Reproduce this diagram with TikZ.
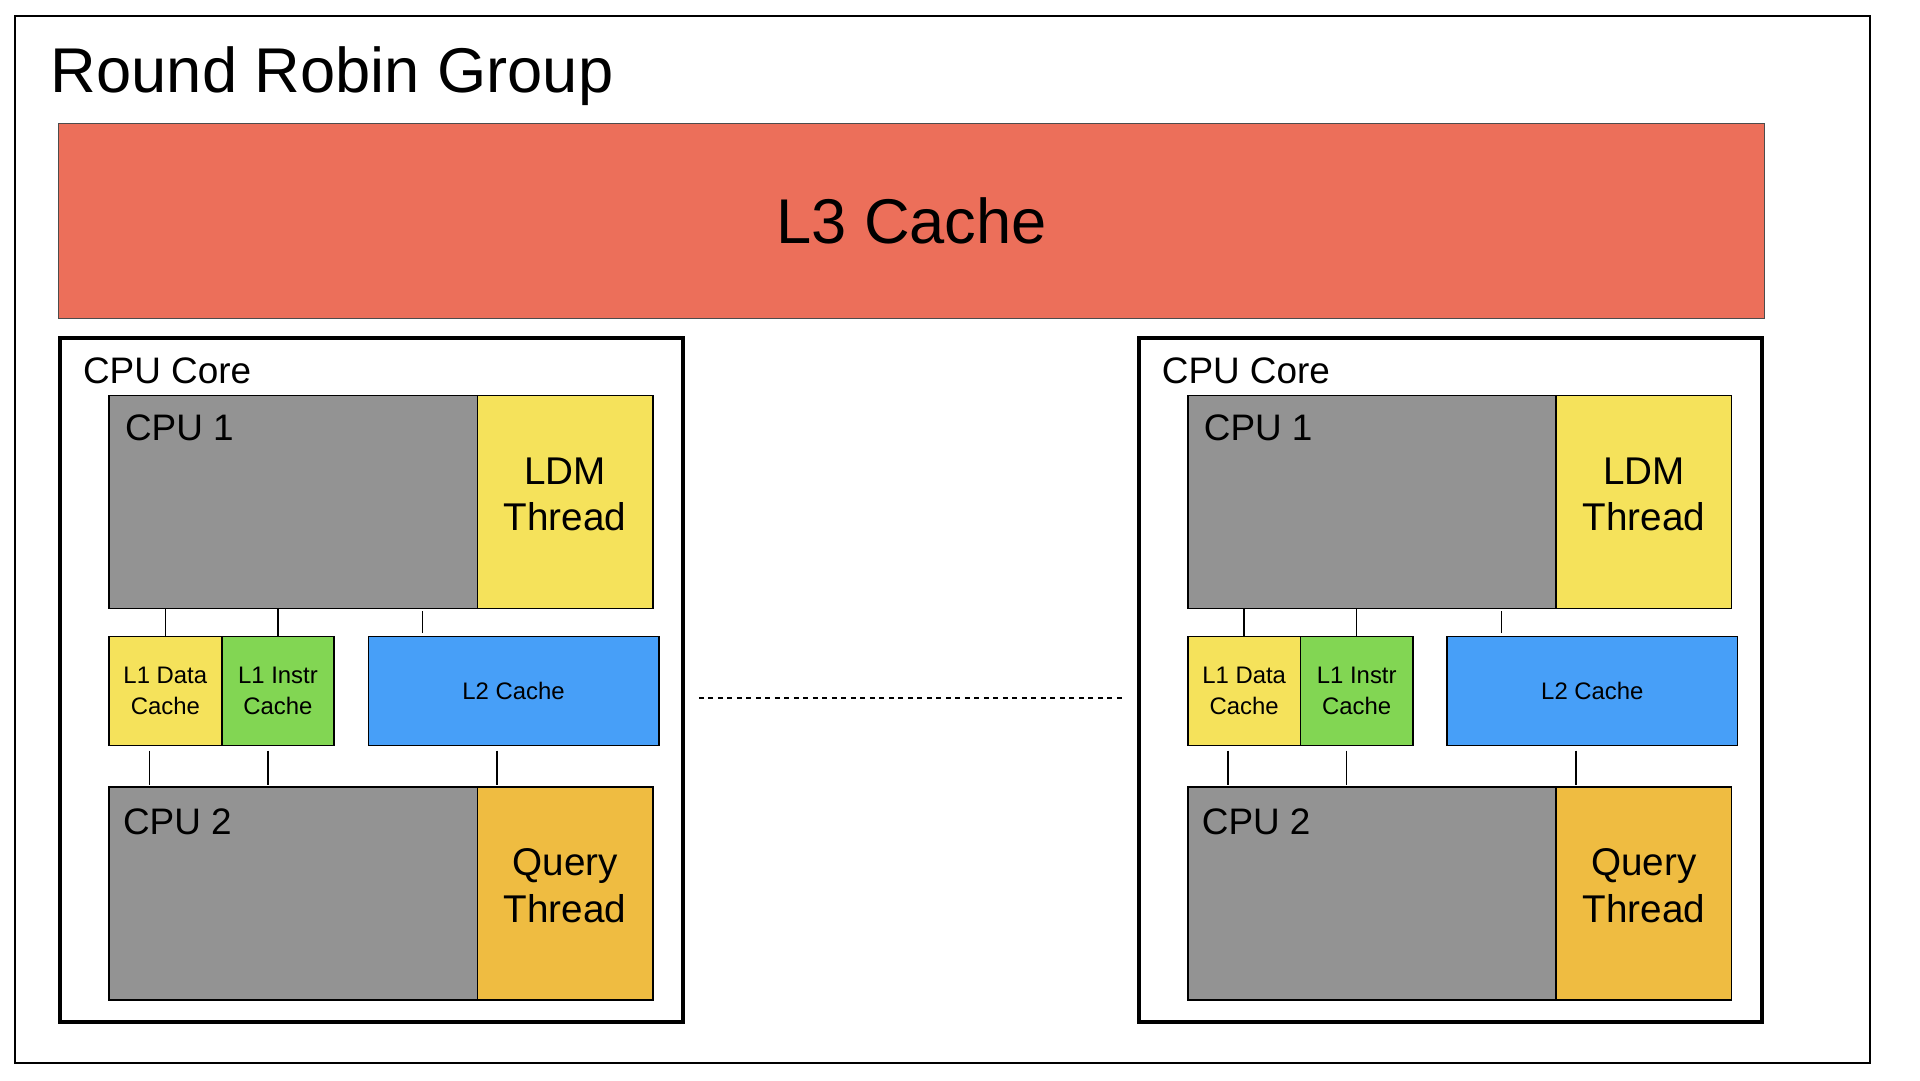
\documentclass[tikz,border=0pt]{standalone}
\usepackage{fontspec}
\setmainfont{Liberation Sans}
\usetikzlibrary{positioning}
\definecolor{CCoral}{HTML}{EC6F5A}
\definecolor{CGray}{HTML}{939393}
\definecolor{CYellow}{HTML}{F5E25B}
\definecolor{CGreen}{HTML}{82D653}
\definecolor{CBlue}{HTML}{479FF8}
\definecolor{COrange}{HTML}{EFBC41}

\begin{document}
\begin{tikzpicture}[
  x=0.02cm,y=-0.02cm,
  every node/.style={inner sep=0pt,outer sep=0pt},
  frame/.style={draw=black,line width=1.1pt,minimum width=37.106cm,minimum height=20.94cm},
  l3box/.style={draw=black!70,line width=0.6pt,fill=CCoral,
    minimum width=34.114cm,minimum height=3.894cm,font=\fontsize{36}{43}\selectfont},
  core/.style={draw=black,line width=2.3pt,minimum width=12.46cm,minimum height=13.69cm},
  cpu/.style={draw=black,line width=1pt,fill=CGray,minimum width=7.37cm,minimum height=4.26cm},
  thread/.style={draw=black,line width=1pt,minimum width=3.504cm,minimum height=4.26cm,
    align=center,text depth=0.32cm,font=\fontsize{22}{26.4}\selectfont},
  lone/.style={draw=black,line width=1pt,minimum width=2.252cm,minimum height=2.18cm,
    align=center,font=\fontsize{13.6}{18}\selectfont},
  ltwo/.style={draw=black,line width=1pt,fill=CBlue,minimum width=5.804cm,minimum height=2.18cm,
    font=\fontsize{13.6}{18}\selectfont},
  lbl/.style={font=\fontsize{21}{25}\selectfont},
  wire/.style={line width=0.8pt,black},
  dotline/.style={line width=1.1pt,dash pattern=on 0.1cm off 0.09cm}
]
  \useasboundingbox (0,0) rectangle (1920,1080);
  \node[frame] (rr) at (942.35,539.5) {};
  \node[font=\fontsize{36}{43}\selectfont,below right=0.62cm and 0.72cm of rr.north west] (title) {Round Robin Group};
  \node[l3box] (l3) at (911.65,221) {L3 Cache};
  \foreach \c/\dx in {L/0,R/1078.8}{
    \node[core] (core\c) at (371.5+\dx,680.25) {};
    \node[lbl,below right=0.4cm and 0.46cm of core\c.north west] (corelbl\c) {CPU Core};
    \node[cpu,below right=1.15cm and 0.98cm of core\c.north west] (cpuA\c) {};
    \node[thread,fill=CYellow,right=0pt of cpuA\c] (ldm\c) {LDM\\Thread};
    \node[lbl,below right=0.38cm and 0.32cm of cpuA\c.north west] (cpuAlbl\c) {CPU 1};
    \node[lone,fill=CYellow,below right=0.56cm and 0cm of cpuA\c.south west] (lid\c) {L1 Data\\Cache};
    \node[lone,fill=CGreen,right=0pt of lid\c] (lii\c) {L1 Instr\\Cache};
    \node[ltwo,right=0.686cm of lii\c] (ltwo\c) {L2 Cache};
    \node[cpu,below right=0.834cm and 0cm of lid\c.south west] (cpuB\c) {};
    \node[thread,fill=COrange,right=0pt of cpuB\c] (qry\c) {Query\\Thread};
    \node[lbl,below right=0.44cm and 0.28cm of cpuB\c.north west] (cpuBlbl\c) {CPU 2};
    % links between CPU 1 and the caches
    \draw[wire] (lid\c.north) -- (lid\c.north |- cpuA\c.south);
    \draw[wire] (lii\c.north) -- (lii\c.north |- cpuA\c.south);
    \coordinate (ltwoup\c) at ([xshift=1.08cm]ltwo\c.north west);
    \draw[wire,shorten <=0.07cm,shorten >=0.05cm] (ltwoup\c) -- (ltwoup\c |- cpuA\c.south);
    % links between the caches and CPU 2
    \coordinate (lidlow\c) at ([xshift=-0.32cm]lid\c.south);
    \coordinate (liilow\c) at ([xshift=-0.2cm]lii\c.south);
    \coordinate (ltwolow\c) at ([xshift=-0.33cm]ltwo\c.south);
    \foreach \p in {lidlow,liilow,ltwolow}
      {\draw[wire,shorten <=0.1cm,shorten >=0.05cm] (\p\c) -- (\p\c |- cpuB\c.north);}
  }
  \coordinate (dotL) at ([yshift=-0.36cm]coreL.east);
  \draw[dotline,shorten <=0.32cm,shorten >=0.3cm] (dotL) -- (dotL -| coreR.west);
\end{tikzpicture}
\end{document}
